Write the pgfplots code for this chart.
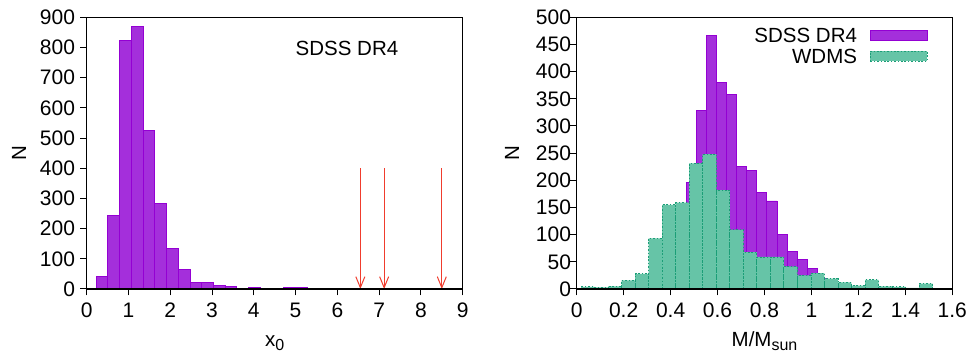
\documentclass[border=0pt]{standalone}
\usepackage{pgfplots}
\pgfplotsset{compat=1.18}
\usepackage{fontspec}
\setmainfont{Liberation Sans}
\usetikzlibrary{arrows.meta}
\definecolor{purpfill}{RGB}{164,47,219}
\definecolor{purpline}{RGB}{148,0,211}
\definecolor{greenfill}{RGB}{102,196,167}
\definecolor{greenline}{RGB}{27,158,119}
\definecolor{arrowred}{RGB}{240,60,45}
\pgfplotsset{
  boxlegend/.style={legend image code/.code={\draw[##1] (0pt,-5.2pt) rectangle (56.7pt,5.2pt);}},
  every axis/.append style={
    font=\fontsize{20.5}{24}\selectfont,
    scale only axis,
    axis on top,
    tick align=outside,
    xtick pos=left, ytick pos=left,
    major tick length=6.5pt,
    axis line style={line width=1.1pt},
    every tick/.style={black, line width=1pt},
    /pgf/number format/assume math mode=true,
    /pgf/number format/fixed,
    tick label style={font=\fontsize{21}{24}\selectfont},
    xticklabel style={anchor=base, yshift=-22.5pt},
  },
}
\begin{document}
\begin{tikzpicture}
\useasboundingbox (0,0) rectangle (971pt,358pt);
% ---------------- left panel
\begin{axis}[
  at={(86.7pt,69pt)}, anchor=south west,
  width=376pt, height=271.7pt,
  xmin=0, xmax=9, ymin=0, ymax=900,
  xtick={0,1,2,3,4,5,6,7,8,9},
  ytick={0,100,200,300,400,500,600,700,800,900},
  yticklabel style={anchor=east, inner sep=0pt, xshift=-5pt},
  xlabel={x\raisebox{-0.35ex}{\fontsize{16}{16}\selectfont 0}},
  xlabel style={at={(axis description cs:0.5,0)}, anchor=base, yshift=-58pt, inner sep=0pt},
  ylabel={N},
  ylabel style={at={(axis description cs:-0.180,0.5)}, anchor=center, inner sep=0pt},
]
\addplot[ybar interval, fill=purpfill, draw=purpline, line width=0.8pt] coordinates {
(0.223,41)(0.504,243)(0.785,823)(1.066,871)(1.347,525)(1.628,284)(1.909,135)(2.190,65)
(2.471,23)(2.752,21)(3.033,13)(3.314,8)(3.595,3)(3.876,5)(4.157,0)(4.438,3)(4.719,6)
(5.000,4)(5.281,0)(5.562,0)(5.843,0)(6.124,0)(6.405,2)(6.686,0)(6.967,2)(7.248,0)
(7.529,0)(7.810,0)(8.091,0)(8.372,2)(8.653,0)};
\addplot[arrowred, line width=1pt, -{Straight Barb[length=11pt,width=9pt,line width=1pt]},
  quiver={u=\thisrow{u}, v=\thisrow{v}}] table {
x y u v
6.55 400 0 -400
7.12 400 0 -400
8.50 400 0 -400
};
\node[anchor=center] at (axis cs:6.23,797) {SDSS DR4};
\end{axis}
% ---------------- right panel
\begin{axis}[
  at={(576.7pt,69pt)}, anchor=south west,
  width=375.6pt, height=271.7pt,
  xmin=0, xmax=1.6, ymin=0, ymax=500,
  xtick={0,0.2,0.4,0.6,0.8,1,1.2,1.4,1.6},
  ytick={0,50,100,150,200,250,300,350,400,450,500},
  yticklabel style={anchor=east, inner sep=0pt, xshift=1pt},
  xlabel={M/M\raisebox{-0.35ex}{\fontsize{16}{16}\selectfont sun}},
  xlabel style={at={(axis description cs:0.5,0)}, anchor=base, yshift=-58pt, inner sep=0pt},
  ylabel={N},
  ylabel style={at={(axis description cs:-0.1723,0.5)}, anchor=center, inner sep=0pt},
  legend cell align=right,
  legend plot pos=right,
  legend style={at={(rel axis cs:0.9345,0.96)}, anchor=north east, draw=none, fill=none,
    inner sep=0pt, row sep=6.4pt, column sep=13pt,
    nodes={inner sep=0pt, text height=14.3pt, text depth=0pt},
    font=\fontsize{20.5}{24}\selectfont},
]
\addplot[ybar interval, fill=purpfill, draw=purpline, line width=0.8pt, boxlegend] coordinates {
(0.294,10)(0.337,35)(0.380,80)(0.423,140)(0.466,196)(0.509,329)(0.552,466)(0.595,380)
(0.638,358)(0.681,226)(0.724,218)(0.767,178)(0.810,162)(0.853,101)(0.896,69)(0.939,54)
(0.982,38)(1.025,20)(1.068,0)};
\addlegendentry{SDSS DR4}
\addplot[ybar interval, fill=greenfill, draw=greenline, line width=0.8pt, dash pattern=on 1.6pt off 1.8pt, boxlegend] coordinates {
(0.0185,4)(0.0761,3)(0.1337,5)(0.1913,16)(0.2489,28)(0.3065,93)(0.3641,155)(0.4217,159)
(0.4793,231)(0.5369,248)(0.5945,182)(0.6521,109)(0.7097,68)(0.7673,59)(0.8249,59)(0.8825,41)
(0.9401,25)(0.9977,29)(1.0553,19)(1.1129,12)(1.1705,6)(1.2281,17)(1.2857,5)(1.3433,4)
(1.4009,2)(1.4585,10)(1.5161,0)};
\addlegendentry{WDMS}
\end{axis}
\end{tikzpicture}
\end{document}
